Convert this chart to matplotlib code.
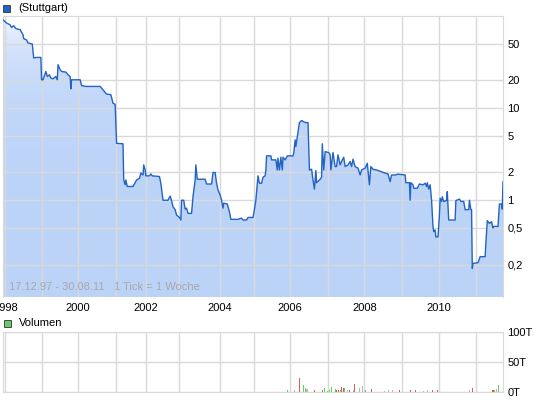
import matplotlib.pyplot as plt
import numpy as np
from matplotlib.colors import LinearSegmentedColormap
from matplotlib.patches import Rectangle

plt.rcParams['font.family'] = ['Liberation Sans', 'DejaVu Sans']

# x axis is a tick index (1 tick = 1 week), years mark where each year starts
year_pos = [3, 54, 105, 158, 200, 247, 304, 351, 402, 455, 506, 558, 610, 662]
year_lbl = list(range(1998, 2012))

# price in EUR (Stuttgart)
week = [0, 5, 10, 12, 15, 18, 24, 28, 29, 33, 35, 41, 43, 47, 53, 54, 56, 60, 62, 65,
        67, 70, 74, 76, 77, 80, 82, 88, 91, 94, 95, 96, 108, 110, 116, 136, 140, 145, 151, 154,
        157, 159, 168, 169, 171, 172, 174, 182, 185, 187, 191, 193, 196, 197, 199, 200, 205, 207, 209, 219,
        221, 224, 231, 234, 236, 238, 241, 243, 247, 249, 250, 253, 255, 257, 259, 264, 266, 269, 270, 272,
        283, 285, 292, 294, 297, 299, 301, 304, 306, 308, 309, 314, 317, 319, 329, 334, 336, 341, 343, 350,
        352, 354, 356, 357, 359, 362, 364, 367, 368, 369, 375, 376, 382, 384, 385, 387, 389, 391, 392, 395,
        398, 406, 407, 409, 410, 415, 418, 423, 427, 429, 432, 434, 436, 438, 439, 444, 446, 447, 449, 451,
        456, 458, 459, 462, 465, 467, 469, 472, 474, 477, 479, 483, 486, 488, 490, 493, 497, 500, 502, 507,
        510, 513, 515, 518, 523, 529, 535, 539, 542, 544, 549, 553, 563, 564, 569, 570, 571, 574, 575, 580,
        583, 588, 591, 593, 594, 596, 598, 600, 602, 603, 605, 606, 609, 611, 612, 614, 615, 617, 621, 622,
        624, 633, 634, 639, 641, 645, 647, 652, 653, 655, 656, 657, 658, 665, 668, 675, 676, 678, 681, 684,
        686, 687, 693, 695, 698, 699, 700]
price = [91, 84, 80, 75, 78.5, 73, 71, 62.6, 56.7, 55, 51, 49.6, 35, 35.5, 35.5, 20.3, 20.3, 25, 22, 23,
         21.2, 20.8, 22, 20.3, 29.6, 26, 25, 24.6, 23, 22, 16.2, 20.3, 20.3, 17.6, 17.2, 17.2, 15.8, 14.2, 14, 11.3,
         11, 4.15, 4.1, 1.66, 1.47, 1.66, 1.41, 1.41, 1.55, 1.66, 1.73, 1.97, 1.88, 2.42, 2.13, 1.84, 1.84, 1.93, 1.84, 1.81,
         1.53, 1.0, 1.0, 1.11, 0.99, 0.85, 0.79, 0.69, 0.65, 0.61, 1.0, 1.0, 0.80, 0.82, 0.72, 0.72, 1.09, 1.66, 2.42, 1.69,
         1.69, 1.50, 1.50, 2.0, 2.0, 1.53, 1.29, 1.14, 1.0, 0.82, 0.93, 0.91, 0.75, 0.62, 0.62, 0.64, 0.61, 0.61, 0.65, 0.65,
         0.79, 1.0, 1.53, 1.84, 1.53, 1.53, 1.78, 1.84, 2.13, 3.03, 3.03, 2.74, 2.74, 2.13, 2.86, 2.13, 2.93, 2.13, 2.93, 2.74,
         3.03, 3.03, 3.24, 4.52, 3.83, 6.97, 7.33, 6.97, 6.97, 2.13, 2.17, 1.66, 1.32, 2.10, 1.55, 1.69, 1.78, 4.1, 2.13, 3.37,
         3.29, 3.11, 2.13, 3.29, 2.32, 2.32, 3.11, 2.42, 2.63, 2.93, 2.32, 2.42, 2.63, 2.32, 2.79, 2.32, 2.23, 1.88, 2.13, 2.23,
         2.52, 1.47, 2.32, 2.17, 2.13, 2.05, 1.97, 1.93, 1.59, 1.88, 1.88, 1.92, 1.88, 1.55, 1.55, 1.0, 1.55, 1.47, 1.35, 1.35,
         1.50, 1.47, 1.53, 1.41, 1.55, 1.32, 1.47, 1.0, 0.52, 0.456, 0.475, 0.40, 0.40, 0.69, 1.05, 0.97, 1.09, 0.97, 0.99, 1.24,
         0.61, 0.61, 0.99, 1.03, 0.97, 0.97, 0.79, 0.79, 1.0, 0.79, 0.79, 0.182, 0.206, 0.21, 0.244, 0.244, 0.34, 0.60, 0.56, 0.585,
         0.50, 0.52, 0.52, 0.91, 0.91, 0.80, 1.59]

price_ticks = [50, 20, 10, 5, 2, 1, 0.5, 0.2]
price_tick_lbl = ['50', '20', '10', '5', '2', '1', '0,5', '0,2']

# volume in thousands, r = falling week, g = rising week, n = unchanged
vol_week = [398, 408, 415, 421, 423, 425, 426, 436, 438, 441, 447, 448, 450, 454, 457, 459, 460, 462, 465, 467,
            470, 472, 474, 476, 477, 478, 480, 482, 485, 487, 491, 492, 494, 497, 499, 501, 503, 507, 511, 516,
            522, 529, 534, 540, 545, 550, 555, 560, 564, 570, 577, 589, 594, 601, 608, 627, 653, 657, 676, 679,
            685, 687, 688, 691, 694]
vol_val = [2.8, 2.8, 23, 11, 5.5, 4.4, 4.4, 2.8, 2.8, 1, 2.8, 4.4, 5.5, 1, 2.8, 2.8, 7, 7, 4.4, 2.8,
           2.8, 2.8, 7, 4.4, 5.5, 5.5, 5.5, 2.8, 1.7, 2.8, 1.7, 12.6, 3.9, 1.7, 5.5, 8.3, 9.4, 1.7, 1.7, 4.4,
           1, 2.8, 1, 1.7, 2.8, 2.8, 2.8, 1.7, 2.8, 1.7, 2.8, 1, 1.7, 1.7, 2.8, 1, 1.7, 6.6, 2.8, 4.4,
           2.8, 2.8, 2.8, 4.4, 11]
vol_dir = ['g', 'n', 'r', 'g', 'g', 'n', 'n', 'r', 'r', 'g', 'r', 'g', 'g', 'g', 'g', 'r', 'g', 'g', 'g', 'r',
           'r', 'g', 'r', 'g', 'r', 'g', 'r', 'n', 'r', 'r', 'n', 'r', 'n', 'r', 'n', 'n', 'n', 'g', 'r', 'r',
           'n', 'r', 'n', 'n', 'n', 'n', 'r', 'n', 'n', 'r', 'r', 'n', 'n', 'r', 'r', 'g', 'n', 'r', 'n', 'g',
           'r', 'r', 'g', 'n', 'g']
vol_ticks = [0, 50, 100]
vol_tick_lbl = ['0T', '50T', '100T']

grid_c = '#d9d9d9'
line_c = '#2263c4'
fs = 8

fig = plt.figure(figsize=(5.45, 4.01), dpi=100)
ax = fig.add_axes([3 / 545, 1 - 297 / 401, 500 / 545, 281 / 401])
axv = fig.add_axes([3 / 545, 1 - 391.5 / 401, 500 / 545, 59.2 / 401])

x0, x1 = 0, 700
ylo, yhi = 0.089, 100

# gradient fill under the price line
ax.set_yscale('log')
cmap = LinearSegmentedColormap.from_list('fill', ['#bcd3f8', '#f6f9ff'])
grad = np.linspace(0, 1, 256).reshape(-1, 1)
im = ax.imshow(grad, extent=[x0, x1, ylo, yhi], origin='lower', aspect='auto',
               cmap=cmap, zorder=1, interpolation='bicubic')
poly = ax.fill_between(week, price, ylo * 0.5, color='none', lw=0)
im.set_clip_path(poly.get_paths()[0], transform=ax.transData)
ax.plot(week, price, color=line_c, lw=1.0, zorder=3)

ax.set_xlim(x0, x1)
ax.set_ylim(ylo, yhi)
ax.set_xticks(year_pos)
ax.set_xticks([], minor=True)
ax.set_xticklabels([str(y) if y % 2 == 0 else '' for y in year_lbl], fontsize=fs)
ax.set_yticks(price_ticks)
ax.set_yticklabels(price_tick_lbl, fontsize=fs)
ax.yaxis.set_minor_locator(plt.NullLocator())
ax.yaxis.tick_right()
ax.tick_params(length=0, pad=3)
ax.tick_params(axis='x', pad=4)
ax.grid(True, color=grid_c, lw=1, zorder=2)
for s in ax.spines.values():
    s.set_color(grid_c)
ax.spines['bottom'].set_visible(False)
ax.text(8, 0.1, '17.12.97 - 30.08.11   1 Tick = 1 Woche', fontsize=fs, color='#a8a8a8',
        va='bottom', zorder=4)

# volume panel
col_map = {'r': '#e05a5a', 'g': '#5fd35f', 'n': '#b8b8b8'}
axv.bar(vol_week, vol_val, width=1.0, color=[col_map[d] for d in vol_dir], zorder=3)
axv.set_xlim(x0, x1)
axv.set_ylim(0, 100)
axv.set_xticks(year_pos)
axv.set_xticklabels([])
axv.set_yticks(vol_ticks)
axv.set_yticklabels(vol_tick_lbl, fontsize=fs)
axv.yaxis.tick_right()
axv.tick_params(length=0, pad=3)
axv.grid(True, color=grid_c, lw=1, zorder=1)
for s in axv.spines.values():
    s.set_color(grid_c)

# legend boxes
fig.patches.append(Rectangle((3 / 545, 1 - 12 / 401), 7 / 545, 7 / 401, transform=fig.transFigure,
                             facecolor='#2263c4', edgecolor='#333333', lw=0.6))
fig.text(18 / 545, 1 - 8 / 401, '(Stuttgart)', fontsize=fs, va='center')
fig.patches.append(Rectangle((4 / 545, 1 - 327 / 401), 7 / 545, 7 / 401, transform=fig.transFigure,
                             facecolor='#66cc66', edgecolor='#333333', lw=0.6))
fig.text(19 / 545, 1 - 323.5 / 401, 'Volumen', fontsize=fs, va='center')

fig.savefig('out.png', dpi=100)
